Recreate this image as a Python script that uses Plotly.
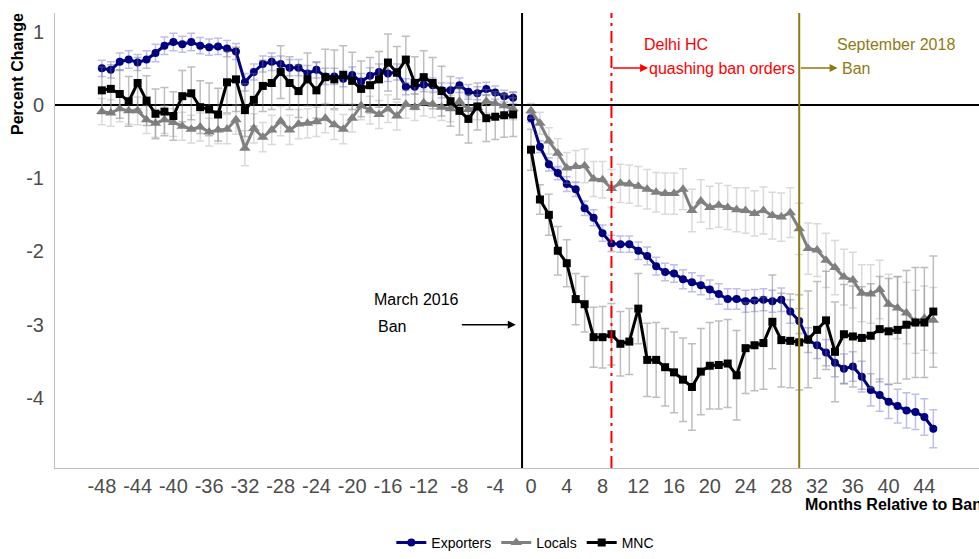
import plotly.graph_objects as go

# Event-study estimates: months relative to the March 2016 ban
months_pre = list(range(-48, -1))   # -48 .. -2
months_post = list(range(0, 46))    # 0 .. 45

exporters_pre = [0.50, 0.48, 0.59, 0.62, 0.58, 0.62, 0.71, 0.81, 0.86, 0.83,
                 0.86, 0.81, 0.79, 0.80, 0.77, 0.73, 0.31, 0.45, 0.56, 0.59,
                 0.56, 0.51, 0.51, 0.43, 0.48, 0.39, 0.39, 0.36, 0.41, 0.32,
                 0.40, 0.45, 0.43, 0.45, 0.25, 0.25, 0.28, 0.27, 0.20, 0.20,
                 0.27, 0.18, 0.16, 0.22, 0.17, 0.12, 0.10]
exporters_post = [-0.18, -0.57, -0.81, -0.93, -1.08, -1.15, -1.41, -1.54, -1.75, -1.89,
                  -1.90, -1.90, -1.99, -2.06, -2.20, -2.28, -2.30, -2.38, -2.42, -2.46,
                  -2.52, -2.58, -2.65, -2.65, -2.68, -2.67, -2.66, -2.68, -2.66, -2.82,
                  -2.95, -3.21, -3.28, -3.38, -3.52, -3.60, -3.57, -3.71, -3.89, -3.96,
                  -4.05, -4.11, -4.17, -4.19, -4.26, -4.42]

locals_pre = [-0.09, -0.11, -0.05, -0.08, -0.08, -0.20, -0.25, -0.20, -0.24, -0.29,
              -0.33, -0.30, -0.37, -0.34, -0.33, -0.20, -0.59, -0.32, -0.44, -0.34,
              -0.22, -0.34, -0.26, -0.25, -0.23, -0.18, -0.27, -0.33, -0.18, -0.01,
              -0.07, -0.13, -0.05, -0.15, 0.01, -0.03, 0.03, 0.01, -0.03, -0.05,
              0.05, -0.06, -0.03, 0.05, 0.02, -0.01, -0.05]
locals_post = [-0.08, -0.25, -0.49, -0.66, -0.86, -0.84, -0.83, -1.01, -1.02, -1.14,
               -1.07, -1.08, -1.11, -1.15, -1.19, -1.21, -1.21, -1.15, -1.44, -1.31,
               -1.40, -1.37, -1.40, -1.43, -1.44, -1.48, -1.44, -1.51, -1.53, -1.47,
               -1.69, -1.96, -1.98, -2.12, -2.22, -2.35, -2.39, -2.57, -2.58, -2.52,
               -2.72, -2.77, -2.84, -2.96, -2.91, -2.94]

mnc_pre = [0.20, 0.22, 0.15, 0.05, 0.30, 0.06, -0.12, -0.09, -0.15, 0.12,
           0.16, -0.03, -0.06, -0.13, 0.31, 0.35, -0.07, 0.07, 0.26, 0.30,
           0.45, 0.30, 0.19, 0.35, 0.20, 0.38, 0.35, 0.41, 0.33, 0.22,
           0.27, 0.35, 0.58, 0.44, 0.62, 0.30, 0.38, 0.30, 0.19, 0.05,
           -0.08, -0.19, -0.02, -0.18, -0.16, -0.14, -0.13]
mnc_post = [-0.61, -1.29, -1.50, -1.99, -2.16, -2.65, -2.72, -3.17, -3.17, -3.13,
            -3.26, -3.23, -2.78, -3.48, -3.48, -3.58, -3.65, -3.75, -3.85, -3.64,
            -3.56, -3.55, -3.53, -3.69, -3.32, -3.28, -3.25, -2.96, -3.21, -3.22,
            -3.24, -3.20, -3.07, -2.94, -3.37, -3.13, -3.16, -3.18, -3.15, -3.06,
            -3.09, -3.07, -3.00, -2.97, -2.97, -2.82]

# 95% confidence half-widths
exporters_ci_pre = [0.11, 0.11, 0.12, 0.12, 0.11, 0.12, 0.12, 0.12, 0.12, 0.11,
                    0.12, 0.11, 0.11, 0.11, 0.11, 0.11, 0.12, 0.11, 0.11, 0.12,
                    0.11, 0.11, 0.11, 0.11, 0.11, 0.11, 0.11, 0.11, 0.11, 0.11,
                    0.11, 0.11, 0.11, 0.11, 0.11, 0.10, 0.10, 0.10, 0.10, 0.10,
                    0.10, 0.10, 0.09, 0.09, 0.09, 0.08, 0.08]
exporters_ci_post = [0.06, 0.08, 0.09, 0.09, 0.10, 0.10, 0.10, 0.11, 0.11, 0.11,
                     0.11, 0.11, 0.12, 0.12, 0.12, 0.12, 0.12, 0.13, 0.13, 0.13,
                     0.13, 0.14, 0.14, 0.14, 0.15, 0.15, 0.15, 0.15, 0.16, 0.16,
                     0.17, 0.17, 0.18, 0.18, 0.19, 0.20, 0.20, 0.21, 0.22, 0.22,
                     0.23, 0.23, 0.24, 0.24, 0.25, 0.26]
locals_ci_pre = [0.18, 0.18, 0.18, 0.18, 0.19, 0.19, 0.19, 0.19, 0.19, 0.19,
                 0.19, 0.19, 0.19, 0.19, 0.20, 0.20, 0.24, 0.20, 0.20, 0.20,
                 0.20, 0.20, 0.20, 0.20, 0.20, 0.20, 0.20, 0.20, 0.19, 0.19,
                 0.19, 0.19, 0.19, 0.19, 0.19, 0.18, 0.18, 0.18, 0.18, 0.18,
                 0.17, 0.17, 0.17, 0.16, 0.16, 0.15, 0.15]
locals_ci_post = [0.10, 0.15, 0.18, 0.20, 0.21, 0.22, 0.23, 0.24, 0.25, 0.26,
                  0.26, 0.26, 0.27, 0.27, 0.27, 0.28, 0.28, 0.28, 0.29, 0.29,
                  0.29, 0.30, 0.30, 0.30, 0.31, 0.31, 0.32, 0.32, 0.33, 0.34,
                  0.35, 0.35, 0.36, 0.37, 0.37, 0.38, 0.38, 0.39, 0.40, 0.40,
                  0.41, 0.42, 0.42, 0.43, 0.44, 0.45]
mnc_ci_pre = [0.32, 0.33, 0.33, 0.34, 0.35, 0.34, 0.34, 0.33, 0.33, 0.35,
              0.36, 0.36, 0.36, 0.36, 0.42, 0.44, 0.36, 0.36, 0.35, 0.36,
              0.36, 0.36, 0.36, 0.36, 0.38, 0.38, 0.40, 0.40, 0.39, 0.38,
              0.38, 0.38, 0.39, 0.36, 0.32, 0.36, 0.36, 0.35, 0.34, 0.34,
              0.33, 0.33, 0.32, 0.32, 0.31, 0.30, 0.30]
mnc_ci_post = [0.28, 0.20, 0.28, 0.33, 0.32, 0.35, 0.38, 0.41, 0.42, 0.42,
               0.44, 0.45, 0.48, 0.50, 0.51, 0.53, 0.55, 0.57, 0.59, 0.59,
               0.59, 0.60, 0.60, 0.61, 0.62, 0.62, 0.63, 0.64, 0.64, 0.64,
               0.65, 0.66, 0.66, 0.67, 0.68, 0.68, 0.69, 0.70, 0.71, 0.72,
               0.72, 0.73, 0.74, 0.75, 0.75, 0.76]

# Axis ticks (plain hyphen for negatives)
x_ticks = list(range(-48, 45, 4))
x_ticklabels = [str(v) for v in x_ticks]
y_ticks = [-4, -3, -2, -1, 0, 1]
y_ticklabels = [str(v) for v in y_ticks]

# Pre and post periods are drawn as one trace with a break at month -1
x_all = months_pre + [-1] + months_post


def joined(pre, post):
    return pre + [None] + post


def joined_ci(pre, post):
    return pre + [0] + post


series = [
    ("Exporters", exporters_pre, exporters_post, exporters_ci_pre, exporters_ci_post,
     "#000080", "circle", 8, "rgba(70,70,200,0.35)"),
    ("Locals", locals_pre, locals_post, locals_ci_pre, locals_ci_post,
     "#808080", "triangle-up", 10, "rgba(150,150,150,0.35)"),
    ("MNC", mnc_pre, mnc_post, mnc_ci_pre, mnc_ci_post,
     "#000000", "square", 8, "rgba(110,110,110,0.45)"),
]

fig = go.Figure()
for name, pre, post, ci_pre, ci_post, color, symbol, msize, ecolor in series:
    fig.add_trace(go.Scatter(
        x=x_all, y=joined(pre, post), name=name,
        mode="lines+markers",
        line=dict(color=color, width=3),
        marker=dict(color=color, symbol=symbol, size=msize),
        error_y=dict(type="data", array=joined_ci(ci_pre, ci_post),
                     color=ecolor, thickness=1.5, width=4),
        connectgaps=False,
    ))

RED = "#FF0000"
GOLD = "#8F7A12"

shapes = [
    dict(type="line", xref="paper", x0=0, x1=1, yref="y", y0=0, y1=0,
         line=dict(color="black", width=2), layer="below"),
    dict(type="line", xref="x", x0=-1, x1=-1, yref="paper", y0=0, y1=1,
         line=dict(color="black", width=2), layer="below"),
    dict(type="line", xref="x", x0=9, x1=9, yref="paper", y0=0, y1=1,
         line=dict(color=RED, width=2, dash="12px,5px,3px,5px"), layer="above"),
    dict(type="line", xref="x", x0=30, x1=30, yref="paper", y0=0, y1=1,
         line=dict(color=GOLD, width=2), layer="above"),
]

FONT = "Arial, Liberation Sans, sans-serif"
txt = dict(family=FONT, size=16)
annotations = [
    # arrows
    dict(x=-1.7, y=-3.0, ax=-7.9, ay=-3.0, xref="x", yref="y", axref="x", ayref="y",
         showarrow=True, arrowhead=2, arrowsize=1, arrowwidth=1.6, arrowcolor="black", text=""),
    dict(x=13.1, y=0.505, ax=9.0, ay=0.505, xref="x", yref="y", axref="x", ayref="y",
         showarrow=True, arrowhead=2, arrowsize=1, arrowwidth=1.6, arrowcolor=RED, text=""),
    dict(x=34.3, y=0.505, ax=30.0, ay=0.505, xref="x", yref="y", axref="x", ayref="y",
         showarrow=True, arrowhead=2, arrowsize=1, arrowwidth=1.6, arrowcolor=GOLD, text=""),
    # labels
    dict(x=-17.8, y=-2.66, xref="x", yref="y", text="March 2016", showarrow=False,
         xanchor="left", yanchor="middle", font=dict(txt, color="black")),
    dict(x=-17.3, y=-3.02, xref="x", yref="y", text="Ban", showarrow=False,
         xanchor="left", yanchor="middle", font=dict(txt, color="black")),
    dict(x=12.4, y=0.82, xref="x", yref="y", text="Delhi HC", showarrow=False,
         xanchor="left", yanchor="middle", font=dict(txt, color=RED)),
    dict(x=13.0, y=0.505, xref="x", yref="y", text="quashing ban orders", showarrow=False,
         xanchor="left", yanchor="middle", font=dict(txt, color=RED)),
    dict(x=34.0, y=0.82, xref="x", yref="y", text="September 2018", showarrow=False,
         xanchor="left", yanchor="middle", font=dict(txt, color=GOLD)),
    dict(x=34.6, y=0.505, xref="x", yref="y", text="Ban", showarrow=False,
         xanchor="left", yanchor="middle", font=dict(txt, color=GOLD)),
    # axis titles
    dict(x=-0.04, y=0.866, xref="paper", yref="paper", text="<b>Percent Change</b>",
         showarrow=False, textangle=-90, xanchor="center", yanchor="middle",
         font=dict(family=FONT, size=16, color="black")),
    dict(x=0.8095, y=-0.081, xref="paper", yref="paper", text="<b>Months Relative to Ban</b>",
         showarrow=False, xanchor="left", yanchor="middle",
         font=dict(family=FONT, size=16, color="black")),
]

fig.update_layout(
    width=979, height=559,
    margin=dict(l=55, r=0, t=13, b=91),
    plot_bgcolor="white", paper_bgcolor="white",
    font=dict(family=FONT),
    showlegend=True,
    legend=dict(orientation="h", x=0.509, xanchor="center", y=-0.2, yanchor="bottom",
                font=dict(size=14, color="black"), itemwidth=30, tracegroupgap=0,
                borderwidth=0),
    shapes=shapes,
    annotations=annotations,
)
fig.update_xaxes(
    range=[-53.24, 50.11],
    tickvals=x_ticks, ticktext=x_ticklabels, tickangle=0, automargin=False,
    ticks="", showgrid=False, zeroline=False,
    showline=True, linecolor="#BDBDBD", linewidth=1,
    tickfont=dict(size=20, color="#4D4D4D"),
)
fig.update_yaxes(
    range=[-4.956, 1.256],
    tickvals=y_ticks, ticktext=y_ticklabels, automargin=False,
    ticks="", showgrid=False, zeroline=False,
    showline=True, linecolor="#BDBDBD", linewidth=1,
    tickfont=dict(size=20, color="#4D4D4D"),
    ticklabelstandoff=6,
)

fig.write_html("out.html")
